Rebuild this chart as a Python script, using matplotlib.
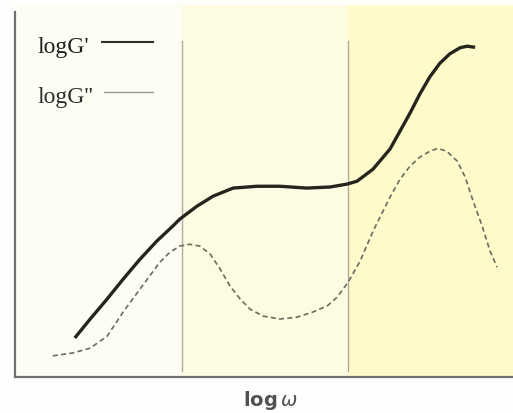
import matplotlib.pyplot as plt

# storage modulus G' (solid) and loss modulus G'' (dashed), arbitrary units
g1_x = [12.0, 15.1, 18.5, 21.7, 25.1, 28.5, 31.7, 33.1, 36.5, 39.8, 43.8, 48.6, 53.2,
        58.6, 63.3, 66.7, 68.7, 71.9, 75.3, 77.3, 79.3, 81.3, 83.3, 85.3, 87.3, 89.4,
        90.8, 92.4]
g1_y = [10.7, 15.9, 21.4, 26.8, 32.3, 37.3, 41.4, 43.3, 46.8, 49.6, 51.8, 52.3, 52.3,
        51.8, 52.1, 52.9, 53.7, 57.0, 62.5, 67.4, 72.3, 77.6, 82.3, 86.0, 88.6, 90.3,
        90.7, 90.4]

g2_x = [7.6, 11.6, 15.1, 18.5, 21.7, 25.1, 29.1, 31.1, 33.1, 35.1, 37.1, 39.2, 41.2,
        43.2, 45.2, 47.2, 49.8, 53.2, 56.6, 59.8, 62.7, 64.7, 66.9, 69.3, 71.9, 75.3,
        77.3, 79.3, 81.3, 83.3, 84.9, 86.7, 88.8, 90.4, 92.0, 93.8, 95.4, 96.8]
g2_y = [5.8, 6.6, 7.9, 11.2, 17.8, 24.1, 31.5, 34.2, 35.9, 36.4, 35.9, 33.7, 29.6,
        24.9, 21.4, 18.6, 16.7, 15.9, 16.4, 17.8, 19.5, 21.9, 26.0, 31.8, 40.0, 49.3,
        54.2, 57.8, 60.3, 61.9, 62.7, 61.9, 59.2, 54.8, 48.2, 41.4, 34.5, 30.1]

# region borders on the log w axis
borders = [33.5, 66.9]
region_colors = ['#fefdf4', '#fdfbe2', '#fefac9']

fig = plt.figure(figsize=(5.13, 4.14), dpi=100)
fig.patch.set_facecolor('#fefefc')
ax = fig.add_axes([15 / 513, 36 / 414, 498 / 513, 372 / 414])
ax.set_xlim(0, 100)
ax.set_ylim(0, 102)
ax.set_facecolor('none')

edges = [0] + borders + [100]
for i, c in enumerate(region_colors):
    ax.axvspan(edges[i], edges[i + 1], color=c, lw=0, zorder=0)
for b in borders:
    ax.plot([b, b], [1.6, 92.1], color='#aeaca0', lw=1.0, zorder=1)

ax.plot(g1_x, g1_y, color='#25251d', lw=2.4, solid_capstyle='butt',
        solid_joinstyle='round', zorder=3)
ax.plot(g2_x, g2_y, color='#6a6a60', lw=1.2, ls=(0, (3, 2)), zorder=3)

# legend drawn by hand, like the textbook figure
ax.text(4.6, 90.5, "logG'", family='Liberation Serif', fontsize=17, color='#1e1e1e',
        va='center', ha='left')
ax.plot([17.5, 27.7], [91.8, 91.8], color='#303028', lw=1.5)
ax.text(4.6, 77.0, "logG''", family='Liberation Serif', fontsize=17, color='#2e2e2e',
        va='center', ha='left')
ax.plot([17.9, 27.7], [78.1, 78.1], color='#9a9a90', lw=1.0)

for s in ['top', 'right']:
    ax.spines[s].set_visible(False)
ax.spines['left'].set_bounds(0, 100)
ax.spines['left'].set_color('#707070')
ax.spines['bottom'].set_color('#707070')
ax.spines['left'].set_linewidth(1.6)
ax.spines['bottom'].set_linewidth(1.6)
ax.set_xticks([])
ax.set_yticks([])

fig.text(270 / 513, 1 - 401 / 414, r'log$\,\omega$', ha='center', va='center',
         fontsize=14, color='#505050', fontweight='bold')

fig.savefig('out.png', dpi=100)
